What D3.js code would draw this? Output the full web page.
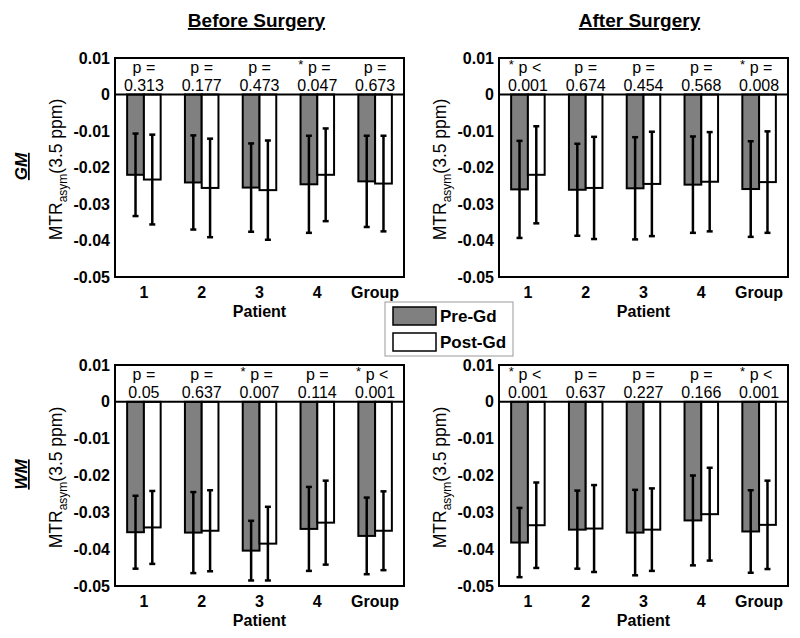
<!DOCTYPE html>
<html>
<head>
<meta charset="utf-8">
<script src="https://cdn.jsdelivr.net/npm/d3@7"></script>
<style>
  html, body { margin: 0; padding: 0; background: #fff; }
  svg { display: block; font-family: "Liberation Sans", Arial, sans-serif; }
</style>
</head>
<body>
<svg id="chart" width="800" height="638"></svg>
<script>
// ---------- data ----------
const categories = ["1", "2", "3", "4", "Group"];
const yTicks = [0.01, 0, -0.01, -0.02, -0.03, -0.04, -0.05];
const yTickLabels = ["0.01", "0", "-0.01", "-0.02", "-0.03", "-0.04", "-0.05"];
const seriesNames = ["Pre-Gd", "Post-Gd"];

const gmBeforePre     = [-0.0220, -0.0241, -0.0255, -0.0246, -0.0238];
const gmBeforePreErr  = [0.0113, 0.0129, 0.0121, 0.0133, 0.0125];
const gmBeforePost    = [-0.0233, -0.0256, -0.0262, -0.0220, -0.0244];
const gmBeforePostErr = [0.0123, 0.0135, 0.0136, 0.0127, 0.0131];
const gmBeforeSig  = [false, false, false, true, false];
const gmBeforeOp   = ["=", "=", "=", "=", "="];
const gmBeforePval = ["0.313", "0.177", "0.473", "0.047", "0.673"];

const gmAfterPre     = [-0.0260, -0.0261, -0.0257, -0.0247, -0.0259];
const gmAfterPreErr  = [0.0133, 0.0126, 0.0140, 0.0132, 0.0131];
const gmAfterPost    = [-0.0220, -0.0256, -0.0245, -0.0239, -0.0240];
const gmAfterPostErr = [0.0133, 0.0140, 0.0143, 0.0136, 0.0139];
const gmAfterSig  = [true, false, false, false, true];
const gmAfterOp   = ["<", "=", "=", "=", "="];
const gmAfterPval = ["0.001", "0.674", "0.454", "0.568", "0.008"];

const wmBeforePre     = [-0.0354, -0.0355, -0.0404, -0.0345, -0.0364];
const wmBeforePreErr  = [0.0099, 0.0110, 0.0081, 0.0114, 0.0104];
const wmBeforePost    = [-0.0341, -0.0350, -0.0385, -0.0328, -0.0350];
const wmBeforePostErr = [0.0099, 0.0110, 0.0100, 0.0114, 0.0107];
const wmBeforeSig  = [false, false, true, false, true];
const wmBeforeOp   = ["=", "=", "=", "=", "<"];
const wmBeforePval = ["0.05", "0.637", "0.007", "0.114", "0.001"];

const wmAfterPre     = [-0.0382, -0.0347, -0.0355, -0.0322, -0.0352];
const wmAfterPreErr  = [0.0094, 0.0106, 0.0116, 0.0122, 0.0112];
const wmAfterPost    = [-0.0335, -0.0344, -0.0347, -0.0305, -0.0334];
const wmAfterPostErr = [0.0116, 0.0118, 0.0112, 0.0126, 0.0120];
const wmAfterSig  = [true, false, false, false, true];
const wmAfterOp   = ["<", "=", "=", "=", "<"];
const wmAfterPval = ["0.001", "0.637", "0.227", "0.166", "0.001"];

const columnTitles = ["Before Surgery", "After Surgery"];
const rowTitles = ["GM", "WM"];

// ---------- layout ----------
const svg = d3.select("#chart");
const colX = [115, 499];
const rowY = [58, 365];
const boxW = 289;
const boxH = [219, 221];

const panels = [
  {col: 0, row: 0, pre: gmBeforePre, preErr: gmBeforePreErr, post: gmBeforePost, postErr: gmBeforePostErr, sig: gmBeforeSig, op: gmBeforeOp, pval: gmBeforePval},
  {col: 1, row: 0, pre: gmAfterPre, preErr: gmAfterPreErr, post: gmAfterPost, postErr: gmAfterPostErr, sig: gmAfterSig, op: gmAfterOp, pval: gmAfterPval},
  {col: 0, row: 1, pre: wmBeforePre, preErr: wmBeforePreErr, post: wmBeforePost, postErr: wmBeforePostErr, sig: wmBeforeSig, op: wmBeforeOp, pval: wmBeforePval},
  {col: 1, row: 1, pre: wmAfterPre, preErr: wmAfterPreErr, post: wmAfterPost, postErr: wmAfterPostErr, sig: wmAfterSig, op: wmAfterOp, pval: wmAfterPval}
];

const grayFill = "#808080";

panels.forEach(p => {
  const left = colX[p.col], top = rowY[p.row], h = boxH[p.row];
  const g = svg.append("g").attr("transform", `translate(${left},${top})`);
  const y = d3.scaleLinear().domain([-0.05, 0.01]).range([h, 0]);
  const x0 = d3.scaleBand().domain(categories).range([0, boxW]).padding(0);
  const x1 = d3.scaleBand().domain(seriesNames)
    .range([x0.bandwidth() * 0.21, x0.bandwidth() * 0.79]).padding(0);

  const rows = categories.map((c, i) => ({
    cat: c,
    bars: [
      {s: "Pre-Gd", v: p.pre[i], e: p.preErr[i], fill: grayFill},
      {s: "Post-Gd", v: p.post[i], e: p.postErr[i], fill: "#ffffff"}
    ],
    sig: p.sig[i], op: p.op[i], pval: p.pval[i]
  }));

  // bars
  const cg = g.selectAll("g.cat").data(rows).join("g")
    .attr("class", "cat")
    .attr("transform", d => `translate(${x0(d.cat)},0)`);
  cg.selectAll("rect").data(d => d.bars).join("rect")
    .attr("x", d => x1(d.s))
    .attr("width", x1.bandwidth())
    .attr("y", d => y(Math.max(0, d.v)))
    .attr("height", d => Math.abs(y(d.v) - y(0)))
    .attr("fill", d => d.fill)
    .attr("stroke", "#000")
    .attr("stroke-width", 2);

  // error bars
  const capHalf = 3;
  cg.selectAll("g.err").data(d => d.bars).join("g").attr("class", "err")
    .each(function(d) {
      const cx = x1(d.s) + x1.bandwidth() / 2;
      const e = d3.select(this);
      e.append("line").attr("x1", cx).attr("x2", cx)
        .attr("y1", y(d.v + d.e)).attr("y2", y(d.v - d.e))
        .attr("stroke", "#000").attr("stroke-width", 2.5);
      [d.v + d.e, d.v - d.e].forEach(vv => {
        e.append("line").attr("x1", cx - capHalf).attr("x2", cx + capHalf)
          .attr("y1", y(vv)).attr("y2", y(vv))
          .attr("stroke", "#000").attr("stroke-width", 2.5);
      });
    });

  // zero line
  g.append("line").attr("x1", 0).attr("x2", boxW)
    .attr("y1", y(0)).attr("y2", y(0))
    .attr("stroke", "#000").attr("stroke-width", 2);

  // p-value labels
  cg.each(function(d) {
    const cx = x0.bandwidth() / 2;
    const e = d3.select(this);
    e.append("text").attr("x", cx + (d.sig ? 2 : 0)).attr("y", y(0.01) + 14.5)
      .attr("text-anchor", "middle").attr("font-size", 16)
      .text(`p ${d.op}`);
    if (d.sig) {
      e.append("text").attr("x", cx - 14).attr("y", y(0.01) + 11)
        .attr("text-anchor", "end").attr("font-size", 13)
        .text("*");
    }
    e.append("text").attr("x", cx).attr("y", y(0.01) + 32.5)
      .attr("text-anchor", "middle").attr("font-size", 16)
      .text(d.pval);
  });

  // frame
  g.append("rect").attr("x", 0).attr("y", 0).attr("width", boxW).attr("height", h)
    .attr("fill", "none").attr("stroke", "#000").attr("stroke-width", 2);

  // y axis tick labels (no tick marks)
  const yAxis = d3.axisLeft(y).tickValues(yTicks)
    .tickFormat((d, i) => yTickLabels[i]).tickSize(0).tickPadding(5);
  const ya = g.append("g").call(yAxis);
  ya.select(".domain").remove();
  ya.selectAll("text").attr("font-size", 16).attr("font-weight", "bold")
    .attr("font-family", "Liberation Sans, Arial, sans-serif").attr("fill", "#000");

  // x axis tick labels
  const xAxis = d3.axisBottom(x0).tickSize(0).tickPadding(10);
  const xa = g.append("g").attr("transform", `translate(0,${h})`).call(xAxis);
  xa.select(".domain").remove();
  xa.selectAll("text").attr("font-size", 16).attr("font-weight", "bold")
    .attr("font-family", "Liberation Sans, Arial, sans-serif").attr("fill", "#000");

  // x title
  g.append("text").attr("x", boxW / 2).attr("y", h + 40)
    .attr("text-anchor", "middle").attr("font-size", 16).attr("font-weight", "bold")
    .text("Patient");

  // y title
  const yt = g.append("text")
    .attr("transform", `translate(${-53},${h / 2 + 2}) rotate(-90)`)
    .attr("text-anchor", "middle").attr("font-size", 17.5);
  yt.append("tspan").text("MTR");
  yt.append("tspan").attr("font-size", 12).attr("dy", 5).text("asym");
  yt.append("tspan").attr("dy", -5).text("(3.5 ppm)");
});

// column titles
columnTitles.forEach((t, i) => {
  svg.append("text").attr("x", colX[i] + boxW / 2 - (i === 0 ? 3 : 4)).attr("y", 27)
    .attr("text-anchor", "middle").attr("font-size", 19).attr("font-weight", "bold")
    .attr("text-decoration", "underline")
    .text(t);
});

// row titles
rowTitles.forEach((t, i) => {
  svg.append("text")
    .attr("transform", `translate(27,${rowY[i] + boxH[i] / 2 - 1}) rotate(-90)`)
    .attr("text-anchor", "middle").attr("font-size", 17).attr("font-weight", "bold")
    .attr("font-style", "italic").attr("text-decoration", "underline")
    .text(t);
});

// legend
const lg = svg.append("g").attr("transform", "translate(385,302)");
lg.append("rect").attr("x", 0).attr("y", 0).attr("width", 128).attr("height", 54)
  .attr("fill", "#fff").attr("stroke", "#999").attr("stroke-width", 1);
seriesNames.forEach((s, i) => {
  lg.append("rect").attr("x", 8).attr("y", 5 + i * 26).attr("width", 43).attr("height", 18)
    .attr("fill", i === 0 ? grayFill : "#fff").attr("stroke", "#000").attr("stroke-width", 1.5);
  lg.append("text").attr("x", 55).attr("y", 20 + i * 26)
    .attr("font-size", 17).attr("font-weight", "bold").text(s);
});
</script>
</body>
</html>
